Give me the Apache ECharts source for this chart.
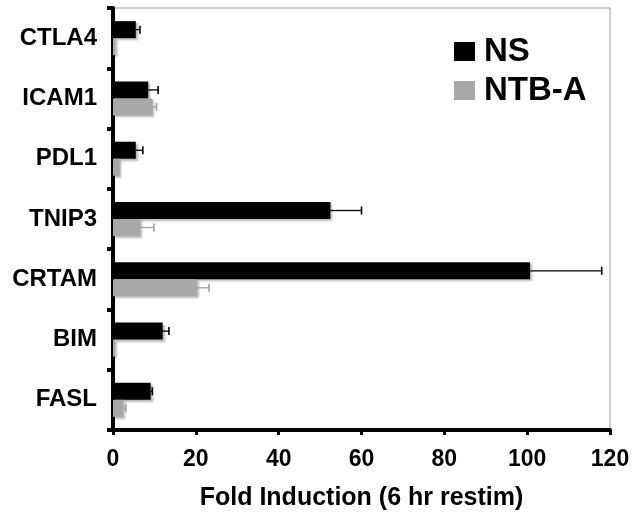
<!DOCTYPE html>
<html>
<head>
<meta charset="utf-8">
<script src="https://cdn.jsdelivr.net/npm/echarts@6/dist/echarts.min.js"></script>
<style>
html,body{margin:0;padding:0;background:#fff;}
#chart{width:634px;height:517px;}
</style>
</head>
<body>
<div id="chart"></div>
<script>
const categories = ['CTLA4','ICAM1','PDL1','TNIP3','CRTAM','BIM','FASL'];
const nsValues   = [5.5, 8.5, 5.5, 52.5, 100.7, 12.0, 9.1];
const nsErrors   = [1.0, 2.4, 1.7, 7.5, 17.3, 1.5, 0.4];
const ntbValues  = [0.6, 9.5, 1.5, 6.5, 20.2, 0.5, 2.5];
const ntbErrors  = [0, 1.0, 0, 3.4, 3.0, 0, 0.6];
const xTicks = {min: 0, max: 120, interval: 20};

const FONT = '"Liberation Sans", Arial, Helvetica, sans-serif';
const BAR_W = 17;

function errData(vals, errs){
  return vals.map((v,i)=>[i, v, v + errs[i]]);
}

function errRender(offsetSign, color){
  return function(params, api){
    const cat = api.value(0);
    const from = api.value(1), to = api.value(2);
    if (to <= from) return null;
    const p0 = api.coord([from, cat]);
    const p1 = api.coord([to, cat]);
    const y = p0[1] + offsetSign * BAR_W / 2;
    const capH = 4;
    return {
      type: 'group',
      children: [
        {type:'line', shape:{x1:p0[0], y1:y, x2:p1[0], y2:y}, style:{stroke:color, lineWidth:1.3}},
        {type:'line', shape:{x1:p1[0], y1:y-capH, x2:p1[0], y2:y+capH}, style:{stroke:color, lineWidth:1.6}}
      ]
    };
  };
}

const chart = echarts.init(document.getElementById('chart'), null, {renderer:'canvas'});
const barShadow = {shadowColor:'rgba(0,0,0,0.28)', shadowOffsetX:2, shadowOffsetY:2, shadowBlur:2};

chart.setOption({
  animation: false,
  backgroundColor: '#fff',
  grid: {left:113, right:24, top:8, bottom:87, show:true, borderColor:'#9a9a9a', borderWidth:1},
  legend: {
    orient:'vertical', left:449, top:30, itemWidth:21, itemHeight:19, itemGap:6, icon:'rect',
    data:['NS','NTB-A'],
    itemStyle:{shadowBlur:0, shadowOffsetX:0, shadowOffsetY:0, shadowColor:'transparent'},
    textStyle:{fontFamily:FONT, fontWeight:'bold', fontSize:33, color:'#000', padding:[0,0,0,4]}
  },
  xAxis: {
    type:'value', min:xTicks.min, max:xTicks.max, interval:xTicks.interval,
    name:'Fold Induction (6 hr restim)', nameLocation:'middle', nameGap:56,
    nameTextStyle:{fontFamily:FONT, fontWeight:'bold', fontSize:25, color:'#000'},
    axisLine:{show:true, lineStyle:{color:'#000', width:4}},
    axisTick:{show:true, length:5, lineStyle:{color:'#000', width:3}},
    axisLabel:{fontFamily:FONT, fontWeight:'bold', fontSize:23, color:'#000', margin:18},
    splitLine:{show:false}
  },
  yAxis: {
    type:'category', data:categories, inverse:true,
    axisLine:{show:true, lineStyle:{color:'#000', width:4}},
    axisTick:{show:true, length:6, lineStyle:{color:'#000', width:4}},
    axisLabel:{fontFamily:FONT, fontWeight:'bold', fontSize:24, color:'#000', margin:16, padding:[0,0,9,0]},
    splitLine:{show:false}
  },
  series: [
    {name:'NS', type:'bar', data:nsValues, barWidth:BAR_W, barGap:'0%',
     itemStyle:Object.assign({color:'#000'}, barShadow), z:2},
    {name:'NTB-A', type:'bar', data:ntbValues, barWidth:BAR_W, barGap:'0%',
     itemStyle:Object.assign({color:'#a8a8a8'}, barShadow), z:2},
    {name:'NS err', type:'custom', data:errData(nsValues, nsErrors),
     encode:{x:[1,2], y:0}, renderItem:errRender(-1, '#000'), z:3, silent:true},
    {name:'NTB-A err', type:'custom', data:errData(ntbValues, ntbErrors),
     encode:{x:[1,2], y:0}, renderItem:errRender(1, '#a0a0a0'), z:3, silent:true}
  ]
});
</script>
</body>
</html>
